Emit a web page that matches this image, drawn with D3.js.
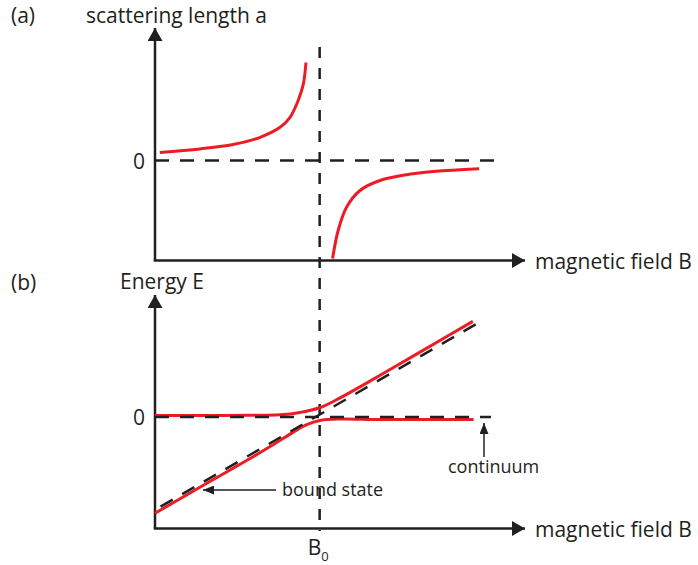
<!DOCTYPE html>
<html>
<head>
<meta charset="utf-8">
<script src="https://cdn.jsdelivr.net/npm/d3@7"></script>
<style>
	body { margin: 0; background: #fff; }
	text { font-family: "Open Sans", "DejaVu Sans", sans-serif; fill: #231f20; }
</style>
</head>
<body>
<div id="chart"></div>
<script>
// magnetic field B (arbitrary units, B0 = 0)
const B0 = 0;

// (a) scattering length branches, [B, a]
const scatterLeft = [
	[-4.32, 0.4], [-3.23, 0.58], [-2.34, 0.8], [-1.61, 1.16], [-1.07, 1.66],
	[-0.8, 2.16], [-0.58, 3.0], [-0.44, 3.83], [-0.37, 4.9]
];
const scatterRight = [
	[0.35, -4.9], [0.5, -3.5], [0.73, -2.33], [1.09, -1.5], [1.63, -1.0],
	[2.53, -0.66], [3.43, -0.5], [4.31, -0.41]
];

// (b) dressed energy levels, [B, E]
const upperLevel = [
	[-4.45, 0.075], [-3.23, 0.075], [-1.88, 0.085], [-1.07, 0.11], [-0.53, 0.23],
	[0, 0.46], [0.55, 0.95], [1.09, 1.5], [2.17, 2.65], [3.25, 3.81], [4.14, 4.76]
];
const lowerLevel = [
	[-4.45, -4.79], [-3.05, -3.3], [-1.8, -1.98], [-1.25, -1.37], [-0.71, -0.75],
	[-0.35, -0.38], [0.01, -0.17], [0.55, -0.1], [1.63, -0.125], [4.16, -0.125]
];
// bare bound state and continuum (dashed)
const boundBare = [[-4.3, -4.46], [4.42, 4.83]];
const continuumBare = [[-4.45, 0], [4.63, 0]];
const zeroLineA = [[-4.45, 0], [4.88, 0]];

const svg = d3.select("#chart").append("svg").attr("width", 698).attr("height", 565);

const ink = "#231f20";
const red = "#ed1c24";

const x = d3.scaleLinear().domain([-4.45, 5.55]).range([155, 525]);
const yA = d3.scaleLinear().domain([-5, 6.6]).range([260.5, 28.5]);
const yB = d3.scaleLinear().domain([-5.55, 6.1]).range([528.5, 294.5]);

function lineFor(y) {
	return d3.line()
		.x((d) => x(d[0]))
		.y((d) => y(d[1]))
		.curve(d3.curveCatmullRom.alpha(0.5));
}

// arrow heads
const defs = svg.append("defs");
function marker(id, w, h) {
	defs.append("marker")
		.attr("id", id)
		.attr("viewBox", `0 0 ${w} ${h}`)
		.attr("refX", w).attr("refY", h / 2)
		.attr("markerWidth", w).attr("markerHeight", h)
		.attr("markerUnits", "userSpaceOnUse")
		.attr("orient", "auto")
		.append("path")
		.attr("d", `M0,0L${w},${h / 2}L0,${h}Z`)
		.attr("fill", ink);
}
marker("axisArrow", 13, 15);
marker("smallArrow", 11, 9);

function drawAxes(y, yTop) {
	const x0 = x.range()[0];
	const yBottom = y.range()[0];
	svg.append("path")
		.attr("d", `M${x0},${yBottom}L${x0},${yTop}`)
		.attr("stroke", ink).attr("stroke-width", 2.5).attr("fill", "none")
		.attr("marker-end", "url(#axisArrow)");
	svg.append("path")
		.attr("d", `M${x0 - 1.25},${yBottom}L${x.range()[1]},${yBottom}`)
		.attr("stroke", ink).attr("stroke-width", 2.5).attr("fill", "none")
		.attr("marker-end", "url(#axisArrow)");
	svg.append("text")
		.attr("x", x0 - 10).attr("y", y(0) + 8)
		.attr("text-anchor", "end")
		.attr("font-size", 21)
		.text("0");
	svg.append("text")
		.attr("x", 535).attr("y", yBottom + 8)
		.attr("font-size", 21)
		.text("magnetic field B");
}

drawAxes(yA, 28);
drawAxes(yB, 295);

// vertical dashed line at B0 spanning both panels
svg.append("line")
	.attr("x1", x(B0)).attr("x2", x(B0))
	.attr("y1", 47).attr("y2", 531)
	.attr("stroke", ink).attr("stroke-width", 2.5)
	.attr("stroke-dasharray", "11 10");

// (a)
svg.append("path").datum(zeroLineA)
	.attr("d", lineFor(yA))
	.attr("stroke", ink).attr("stroke-width", 2.5).attr("fill", "none")
	.attr("stroke-dasharray", "14 11");
[scatterLeft, scatterRight].forEach((d) => {
	svg.append("path").datum(d)
		.attr("d", lineFor(yA))
		.attr("stroke", red).attr("stroke-width", 3).attr("fill", "none");
});

// (b)
[upperLevel, lowerLevel].forEach((d) => {
	svg.append("path").datum(d)
		.attr("d", lineFor(yB))
		.attr("stroke", red).attr("stroke-width", 3).attr("fill", "none");
});
[continuumBare, boundBare].forEach((d) => {
	svg.append("path").datum(d)
		.attr("d", lineFor(yB))
		.attr("stroke", ink).attr("stroke-width", 2.5).attr("fill", "none")
		.attr("stroke-dasharray", "14 11");
});

// annotations
svg.append("line")
	.attr("x1", 276).attr("y1", 490).attr("x2", 203).attr("y2", 490)
	.attr("stroke", ink).attr("stroke-width", 1.5)
	.attr("marker-end", "url(#smallArrow)");
svg.append("text").attr("x", 282).attr("y", 496).attr("font-size", 18).text("bound state");

svg.append("line")
	.attr("x1", 484).attr("y1", 457).attr("x2", 484).attr("y2", 423)
	.attr("stroke", ink).attr("stroke-width", 1.5)
	.attr("marker-end", "url(#smallArrow)");
svg.append("text").attr("x", 448).attr("y", 473).attr("font-size", 18).text("continuum");

// labels
svg.append("text").attr("x", 11).attr("y", 23).attr("font-size", 21).text("(a)");
svg.append("text").attr("x", 86).attr("y", 23).attr("font-size", 21).text("scattering length a");
svg.append("text").attr("x", 11).attr("y", 290).attr("font-size", 21).text("(b)");
svg.append("text").attr("x", 120).attr("y", 289).attr("font-size", 21).text("Energy E");

const b0Label = svg.append("text").attr("x", x(B0) - 12).attr("y", 555).attr("font-size", 21);
b0Label.append("tspan").text("B");
b0Label.append("tspan").attr("font-size", 13).attr("dy", 6).text("0");
</script>
</body>
</html>
